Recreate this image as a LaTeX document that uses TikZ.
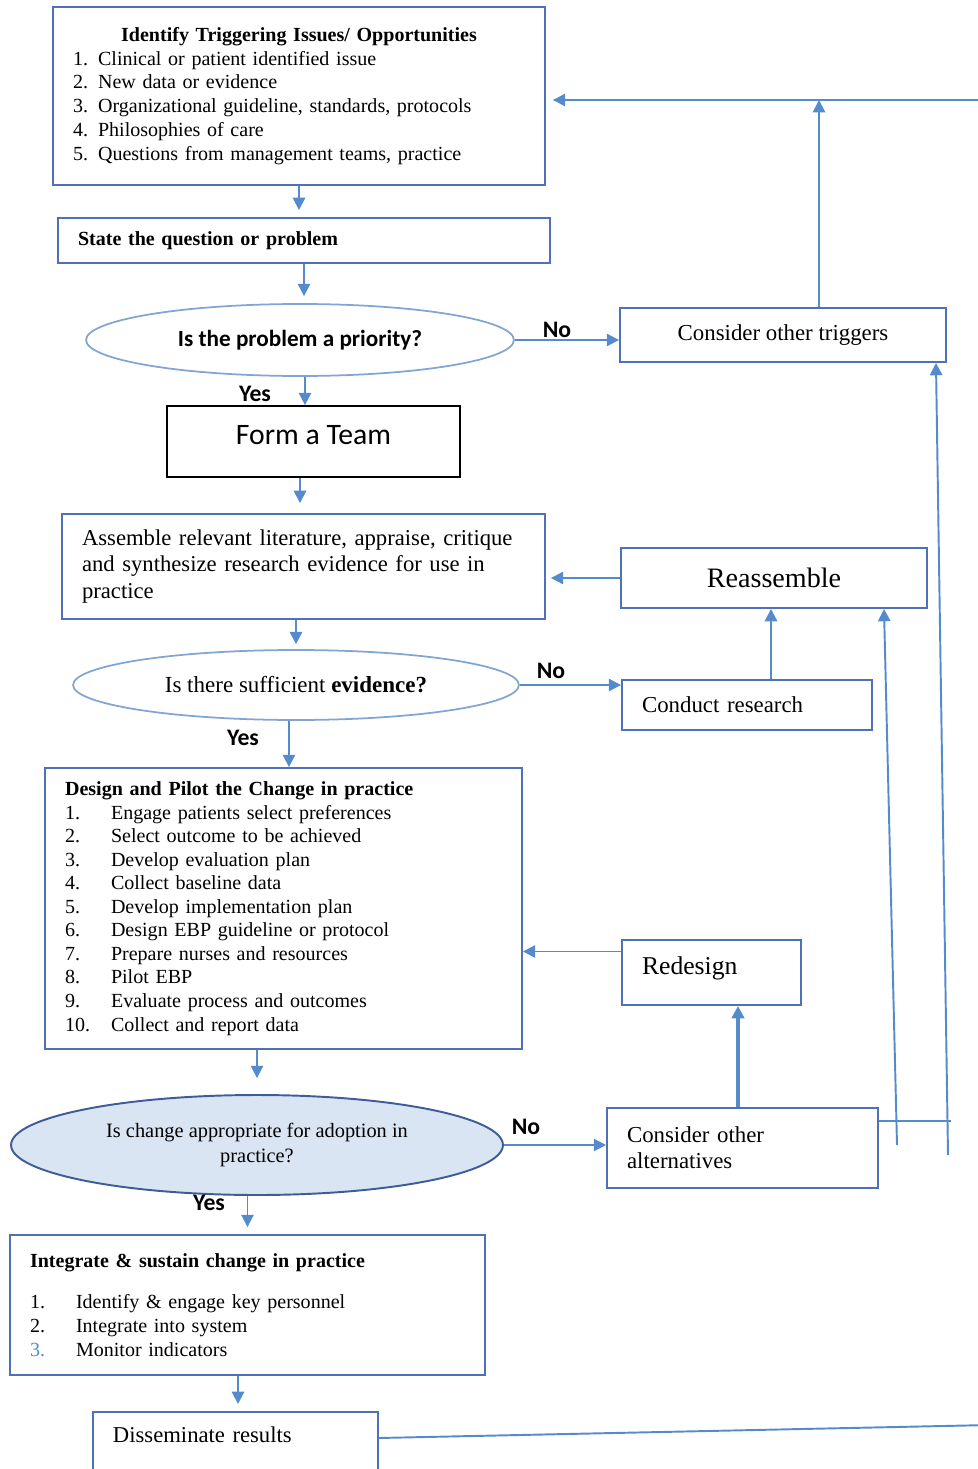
\documentclass[tikz,border=0pt]{standalone}
\usepackage{fontspec}
\setmainfont{Liberation Serif}
\newfontfamily\calibrifont{Carlito}
\usepackage{tikz}
\usetikzlibrary{positioning,shapes.geometric,arrows.meta}
\definecolor{lineblue}{RGB}{84,139,204}
\definecolor{boxblue}{RGB}{80,112,186}
\definecolor{ovalblue}{RGB}{130,165,210}
\definecolor{ovalfill}{RGB}{218,229,244}
\definecolor{ovaldark}{RGB}{62,92,152}
\newcommand{\numitem}[2]{\makebox[0.92cm][l]{#1}#2}

\begin{document}
\begin{tikzpicture}[x=0.02cm, y=-0.02cm]
	% Define styles for boxes
	\tikzset{
		box/.style={
			rectangle,
			draw=boxblue,
			line width=1.1pt,
			inner xsep=0.4cm,
			align=left
		},
		oval/.style={
			ellipse,
			draw=ovalblue,
			line width=1pt,
			inner sep=0pt,
			align=center
		},
		lbl/.style={
			font=\calibrifont\bfseries\fontsize{13.5}{15}\selectfont
		},
		arr/.style={
			draw=lineblue,
			line width=1.1pt,
			-{Triangle[length=7pt,width=7pt]}
		},
		feed/.style={
			draw=lineblue,
			line width=1.1pt
		}
	}
	\useasboundingbox (0,0) rectangle (977,1469);
	
	% Main column
	\node[box, minimum width=9.84cm, minimum height=3.56cm, text width=9.04cm,
		font=\fontsize{11.4}{13.6}\selectfont] (triggerEBP) at (299,96)
		{\makebox[\hsize][c]{\bfseries Identify Triggering Issues/ Opportunities}\\
		1. Clinical or patient identified issue\\
		2. New data or evidence\\
		3. Organizational guideline, standards, protocols\\
		4. Philosophies of care\\
		5. Questions from management teams, practice};
	\node[box, minimum width=9.84cm, minimum height=0.9cm, text width=9.04cm,
		font=\bfseries\fontsize{11.4}{13}\selectfont] (questionEBP) at (304,240.5)
		{State the question or problem};
	\node[oval, minimum width=8.56cm, minimum height=1.44cm,
		font=\calibrifont\bfseries\fontsize{13.2}{15}\selectfont] (priorityEBP) at (300,340)
		{Is the problem a priority?};
	\node[rectangle, draw=black, line width=1pt, minimum width=5.86cm, minimum height=1.42cm,
		text depth=0.28cm, font=\calibrifont\fontsize{16.9}{19}\selectfont] (teamEBP) at (313.5,441.5)
		{Form a Team};
	\node[box, minimum width=9.66cm, minimum height=2.1cm, text width=8.86cm,
		font=\fontsize{12.9}{15.3}\selectfont] (assembleEBP) at (303.5,566.5)
		{Assemble relevant literature, appraise, critique\\
		and synthesize research evidence for use in\\
		practice};
	\node[oval, minimum width=8.92cm, minimum height=1.4cm,
		font=\fontsize{13.1}{15}\selectfont] (evidenceEBP) at (296,685)
		{Is there sufficient \textbf{evidence?}};
	\node[box, minimum width=9.54cm, minimum height=5.62cm, text width=8.74cm,
		font=\fontsize{11.4}{13.4}\selectfont] (designEBP) at (283.5,908.5)
		{\textbf{Design and Pilot the Change in practice}\\
		\numitem{1.}{Engage patients select preferences}\\
		\numitem{2.}{Select outcome to be achieved}\\
		\numitem{3.}{Develop evaluation plan}\\
		\numitem{4.}{Collect baseline data}\\
		\numitem{5.}{Develop implementation plan}\\
		\numitem{6.}{Design EBP guideline or protocol}\\
		\numitem{7.}{Prepare nurses and resources}\\
		\numitem{8.}{Pilot EBP}\\
		\numitem{9.}{Evaluate process and outcomes}\\
		\numitem{10.}{Collect and report data}};
	\node[oval, draw=ovaldark, fill=ovalfill, line width=1.1pt, minimum width=9.84cm, minimum height=2.0cm,
		font=\fontsize{11.6}{14.7}\selectfont] (adoptEBP) at (257,1145)
		{Is change appropriate for adoption in\\practice?};
	\node[box, minimum width=9.5cm, minimum height=2.8cm, text width=8.7cm,
		font=\fontsize{11.4}{13.6}\selectfont] (integrateEBP) at (247.5,1305)
		{\textbf{Integrate \& sustain change in practice}\\[10pt]
		\numitem{1.}{Identify \& engage key personnel}\\
		\numitem{2.}{Integrate into system}\\
		\numitem{\textcolor{lineblue}{3.}}{Monitor indicators}};
	\node[box, anchor=north west, minimum width=5.7cm, text width=4.9cm, inner ysep=0pt,
		text height=0.62cm, text depth=1.0cm,
		font=\fontsize{12.9}{14}\selectfont] (dissEBP) at (92,1411)
		{Disseminate results};
	
	% Side boxes
	\node[box, minimum width=6.52cm, minimum height=1.08cm, align=center,
		font=\fontsize{13}{15}\selectfont] (othertrigEBP) at (783,335)
		{Consider other triggers};
	\node[box, minimum width=6.12cm, minimum height=1.2cm, align=center,
		font=\fontsize{16}{18}\selectfont] (reasEBP) at (774,578)
		{Reassemble};
	\node[box, minimum width=5.0cm, minimum height=1.0cm, text width=4.2cm,
		font=\fontsize{13}{15}\selectfont] (researchEBP) at (747,705)
		{Conduct research};
	\node[box, minimum width=3.58cm, minimum height=1.3cm, text width=2.78cm,
		text depth=0.28cm, font=\fontsize{14.6}{17}\selectfont] (redesignEBP) at (711.5,972.5)
		{Redesign};
	\node[box, minimum width=5.42cm, minimum height=1.6cm, text width=4.62cm,
		font=\fontsize{13}{14.7}\selectfont] (altEBP) at (742.5,1148)
		{Consider other\\alternatives};
	
	% Yes / No labels
	\node[lbl] (noPriority) at (557,330) {No};
	\node[lbl] (yesPriority) at (255,394) {Yes};
	\node[lbl] (noEvidence) at (551,671) {No};
	\node[lbl] (yesEvidence) at (243,738) {Yes};
	\node[lbl] (noAdopt) at (526,1127) {No};
	\node[lbl] (yesAdopt) at (209,1203) {Yes};
	
	% Feedback corners
	\coordinate (dissEnd) at (990,1425);
	\coordinate (topEnd) at (990,100);
	\coordinate (feedA) at (897,1145);
	\coordinate (feedB) at (948,1155);
	
	% Arrows down the main column
	\draw[arr, shorten >=0.14cm] (triggerEBP.south) -- (triggerEBP.south |- questionEBP.north);
	\draw[arr, shorten >=0.14cm] (questionEBP.south) -- (questionEBP.south |- priorityEBP.north);
	\draw[arr] ([xshift=0.1cm]priorityEBP.south) -- ([xshift=0.1cm]priorityEBP.south |- teamEBP.north);
	\draw[arr, shorten >=0.2cm] ([xshift=-0.27cm]teamEBP.south) -- ([xshift=-0.27cm]teamEBP.south |- assembleEBP.north);
	\draw[arr, shorten >=0.1cm] (evidenceEBP.north |- assembleEBP.south) -- (evidenceEBP.north);
	\draw[arr] ([xshift=-0.14cm]evidenceEBP.south) -- ([xshift=-0.14cm]evidenceEBP.south |- designEBP.north);
	\draw[arr, shorten >=0.32cm] (adoptEBP.north |- designEBP.south) -- (adoptEBP.north);
	\draw[arr, shorten >=0.14cm] (integrateEBP.north |- adoptEBP.south) -- (integrateEBP.north);
	\draw[arr, shorten >=0.14cm] ([xshift=-0.19cm]integrateEBP.south) -- ([xshift=-0.19cm]integrateEBP.south |- dissEBP.north);
	
	% No arrows
	\draw[arr] (priorityEBP.east) -- (priorityEBP.east -| othertrigEBP.west);
	\draw[arr] (evidenceEBP.east) -- (evidenceEBP.east -| researchEBP.west);
	\draw[arr] (adoptEBP.east) -- (adoptEBP.east -| altEBP.west);
	
	% Side arrows back into the column
	\draw[arr, shorten >=0.1cm] (reasEBP.west) -- (reasEBP.west -| assembleEBP.east);
	\draw[arr] ([xshift=0.48cm]researchEBP.north) -- ([xshift=0.48cm]researchEBP.north |- reasEBP.south);
	\draw[arr] ([yshift=0.42cm]redesignEBP.west) -- ([yshift=0.42cm]redesignEBP.west -| designEBP.east);
	\draw[arr, line width=1.8pt] ([xshift=-0.09cm]altEBP.north) -- ([xshift=-0.09cm]altEBP.north |- redesignEBP.south);
	\draw[arr] ([xshift=0.72cm]othertrigEBP.north) -- ([xshift=0.72cm]othertrigEBP.north |- topEnd);
	
	% Long feedback lines
	\draw[feed] ([yshift=-0.28cm]altEBP.north east) -- ++(72,0);
	\draw[arr] (feedA) -- ([xshift=2.2cm]reasEBP.south);
	\draw[arr] (feedB) -- ([xshift=3.06cm]othertrigEBP.south);
	\draw[arr, shorten >=0.14cm] ([yshift=-0.54cm]dissEBP.north east) -- (dissEnd) -- (topEnd) -- (topEnd -| triggerEBP.east);
\end{tikzpicture}
\end{document}
